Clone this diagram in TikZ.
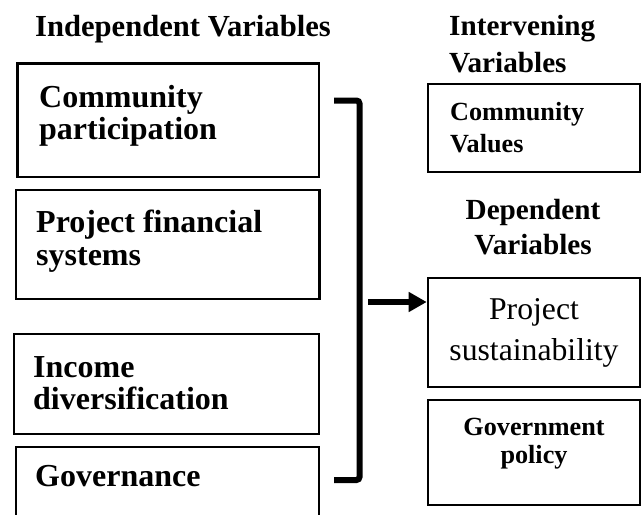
\documentclass[tikz,border=0pt]{standalone}
\usepackage{fontspec}
\setmainfont{Liberation Serif}
\usetikzlibrary{arrows.meta,fit}
\begin{document}
\begin{tikzpicture}[x=1pt,y=-1pt,
  vbox/.style={draw, line width=2.6pt, inner sep=0pt},
  lbl/.style={inner sep=0pt, font=\bfseries\fontsize{32}{38}\selectfont},
  hdr/.style={inner sep=0pt, font=\bfseries\fontsize{29.2}{35}\selectfont},
  small/.style={inner sep=0pt, font=\bfseries\fontsize{26.2}{31}\selectfont},
  plain/.style={inner sep=0pt, font=\fontsize{31.7}{38}\selectfont},
  bracketline/.style={line width=6pt, rounded corners=3pt},
  arrowline/.style={line width=6.5pt, -{Triangle[length=18pt,width=19pt]}}]
\clip (0,0) rectangle (644,514);
\fill[white] (0,0) rectangle (644,514);

% titles
\node[inner sep=0pt, font=\bfseries\fontsize{30.6}{36}\selectfont, anchor=base west] (tind) at (35,36) {Independent Variables};
\node[hdr, anchor=base west] (tint1) at (449,35) {Intervening};
\node[hdr, anchor=base west] (tint2) at (449,72) {Variables};
\node[hdr, anchor=base] (tdep1) at (533,219) {Dependent};
\node[hdr, anchor=base] (tdep2) at (533,254) {Variables};

% left boxes
\node[vbox, fit={(17.5,63.5) (319,177)}] (b1) {};
\node[vbox, fit={(16,190) (319.5,299)}] (b2) {};
\node[vbox, fit={(14,334) (319,434)}] (b3) {};
\node[vbox, fit={(16,447) (319,545)}] (b4) {};

\node[lbl, anchor=base west] (t1a) at (39,107) {Community};
\node[lbl, anchor=base west] (t1b) at (39,139) {participation};
\node[lbl, anchor=base west] (t2a) at (36,232) {Project financial};
\node[lbl, anchor=base west] (t2b) at (36,265) {systems};
\node[lbl, anchor=base west] (t3a) at (33,377) {Income};
\node[lbl, anchor=base west] (t3b) at (33,409) {diversification};
\node[lbl, anchor=base west] (t4a) at (35,486) {Governance};

% right boxes
\node[vbox, fit={(428,84) (640,172)}] (cv) {};
\node[small, anchor=base west] (cva) at (450,120) {Community};
\node[small, anchor=base west] (cvb) at (450,152) {Values};

\node[vbox, fit={(428,278) (640,387)}] (ps) {};
\node[plain, anchor=base] (psa) at (534,319) {Project};
\node[plain, anchor=base] (psb) at (534,360) {sustainability};

\node[vbox, fit={(428,400) (640,505)}] (gp) {};
\node[small, anchor=base] (gpa) at (534,435) {Government};
\node[small, anchor=base] (gpb) at (534,463) {policy};

% bracket and arrow
\coordinate (brT) at (334,100.5);
\coordinate (brB) at (334,480);
\draw[bracketline] (brT) -- ++(25.5,0) |- (brB);
\coordinate (arS) at (368,302);
\draw[arrowline] (arS) -- (arS -| ps.west);
\end{tikzpicture}
\end{document}
